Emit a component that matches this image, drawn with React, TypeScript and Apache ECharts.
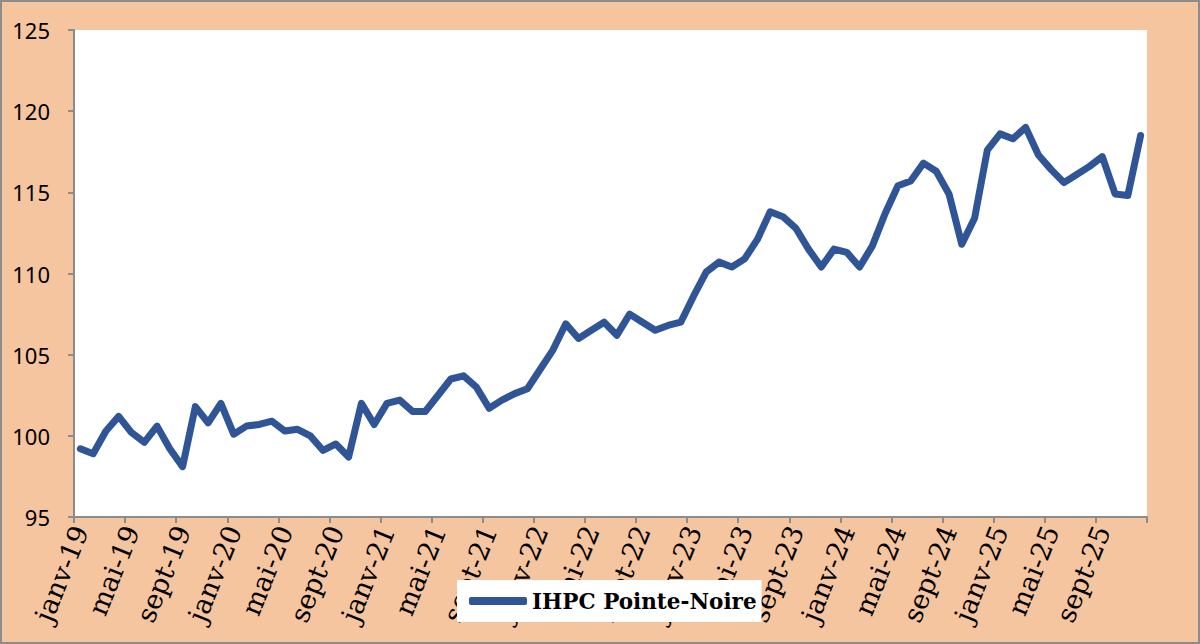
import React, { useEffect, useRef } from "react";
import * as echarts from "echarts";

const MONTHS = ["janv", "févr", "mars", "avr", "mai", "juin", "juil", "août", "sept", "oct", "nov", "déc"];
const YEARS = ["19", "20", "21", "22", "23", "24", "25"];
const CATEGORIES = YEARS.flatMap((y) => MONTHS.map((m) => `${m}-${y}`));

const SERIES_NAME = "IHPC Pointe-Noire";
const IHPC = [
  99.2, 98.9, 100.3, 101.2, 100.2, 99.6, 100.6, 99.2, 98.1, 101.8, 100.8, 102.0,
  100.1, 100.6, 100.7, 100.9, 100.3, 100.4, 100.0, 99.1, 99.5, 98.7, 102.0, 100.7,
  102.0, 102.2, 101.5, 101.5, 102.5, 103.5, 103.7, 103.0, 101.7, 102.2, 102.6, 102.9,
  104.1, 105.3, 106.9, 106.0, 106.5, 107.0, 106.2, 107.5, 107.0, 106.5, 106.8, 107.0,
  108.6, 110.1, 110.7, 110.4, 110.9, 112.1, 113.8, 113.5, 112.8, 111.5, 110.4, 111.5,
  111.3, 110.4, 111.7, 113.7, 115.4, 115.7, 116.8, 116.3, 114.9, 111.8, 113.4, 117.6,
  118.6, 118.3, 119.0, 117.3, 116.4, 115.6, 116.1, 116.6, 117.2, 114.9, 114.8, 118.5,
];

const Y_MIN = 95;
const Y_MAX = 125;
const Y_STEP = 5;

export default function App() {
  const ref = useRef<HTMLDivElement>(null);

  useEffect(() => {
    if (!ref.current) return;
    const chart = echarts.init(ref.current, undefined, { renderer: "svg" });
    chart.setOption({
      animation: false,
      backgroundColor: "#F5C5A0",
      graphic: [
        {
          type: "rect",
          shape: { x: 1, y: 1, width: 1198, height: 642 },
          style: { fill: "none", stroke: "#8C8C8C", lineWidth: 2 },
          z: 100,
        },
      ],
      grid: {
        left: 74,
        right: 53,
        top: 30,
        bottom: 127,
        show: true,
        backgroundColor: "#FFFFFF",
        borderWidth: 0,
      },
      legend: {
        show: true,
        left: 457,
        top: 580,
        backgroundColor: "#FFFFFF",
        padding: [10, 5, 10, 12],
        itemWidth: 58,
        itemHeight: 8,
        icon: "roundRect",
        data: [SERIES_NAME],
        textStyle: {
          fontFamily: "DejaVu Serif",
          fontWeight: "bold",
          fontSize: 21.5,
          color: "#000",
        },
      },
      xAxis: {
        type: "category",
        data: CATEGORIES,
        boundaryGap: true,
        axisLine: { show: true, lineStyle: { color: "#8C8C8C", width: 2 } },
        axisTick: { show: true, interval: 3, length: 6, lineStyle: { color: "#8C8C8C", width: 2 } },
        axisLabel: {
          interval: 3,
          rotate: 68,
          margin: 10,
          fontFamily: "DejaVu Serif",
          fontSize: 27,
          color: "#000",
        },
        splitLine: { show: false },
      },
      yAxis: {
        type: "value",
        min: Y_MIN,
        max: Y_MAX,
        interval: Y_STEP,
        axisLine: { show: true, lineStyle: { color: "#8C8C8C", width: 2 } },
        axisTick: { show: true, length: 6, lineStyle: { color: "#8C8C8C", width: 2 } },
        axisLabel: {
          margin: 24,
          fontFamily: "Noto Sans",
          fontSize: 22,
          color: "#000",
        },
        splitLine: { show: false },
      },
      series: [
        {
          name: SERIES_NAME,
          type: "line",
          data: IHPC,
          showSymbol: false,
          symbol: "none",
          lineStyle: { color: "#2F5597", width: 7, cap: "round", join: "round" },
          itemStyle: { color: "#2F5597" },
        },
      ],
    });
    return () => chart.dispose();
  }, []);

  return (
    <div
      ref={ref}
      style={{ position: "fixed", left: 0, top: 0, width: 1200, height: 644 }}
    />
  );
}
